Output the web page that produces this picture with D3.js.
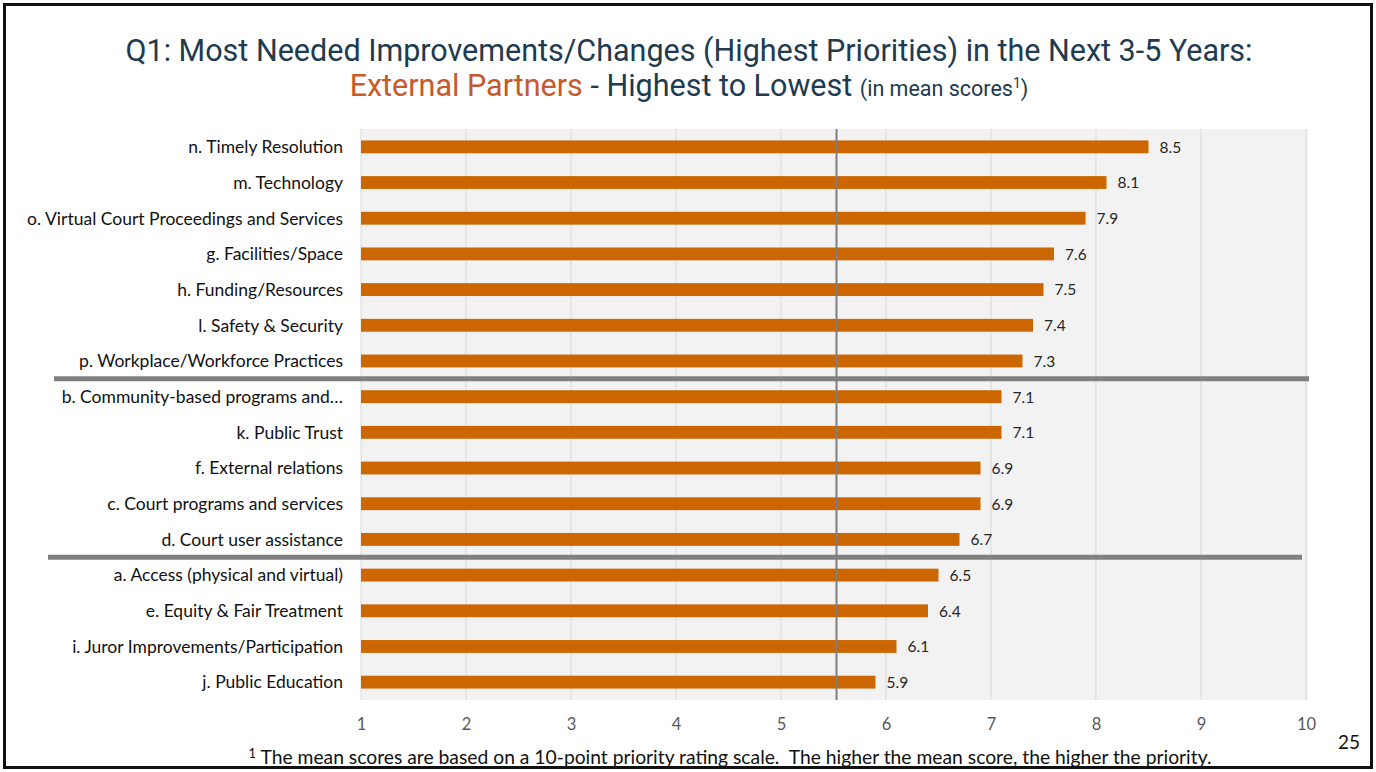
<!DOCTYPE html>
<html>
<head>
<meta charset="utf-8">
<script src="https://cdn.jsdelivr.net/npm/d3@7"></script>
<style>
  html, body { margin: 0; padding: 0; background: #fff; }
  svg { display: block; }
</style>
</head>
<body>
<svg id="chart" width="1376" height="772"></svg>
<script>
// Priority areas, ordered highest to lowest mean score
const categories = [
  "n. Timely Resolution",
  "m. Technology",
  "o. Virtual Court Proceedings and Services",
  "g. Facilities/Space",
  "h. Funding/Resources",
  "l. Safety & Security",
  "p. Workplace/Workforce Practices",
  "b. Community-based programs and…",
  "k. Public Trust",
  "f. External relations",
  "c. Court programs and services",
  "d. Court user assistance",
  "a. Access (physical and virtual)",
  "e. Equity & Fair Treatment",
  "i. Juror Improvements/Participation",
  "j. Public Education"
];
const meanScores = [8.5, 8.1, 7.9, 7.6, 7.5, 7.4, 7.3, 7.1, 7.1, 6.9, 6.9, 6.7, 6.5, 6.4, 6.1, 5.9];
const tickValues = [1, 2, 3, 4, 5, 6, 7, 8, 9, 10];
const scaleMidpoint = 5.5;
// Tiers start at these categories (a divider is drawn above each)
const tierStarts = ["b. Community-based programs and…", "a. Access (physical and virtual)"];

const svg = d3.select("#chart");
const W = 1376, H = 772;

const labelFont = "Lato, 'Open Sans', sans-serif";
const titleFont = "Roboto, 'Noto Sans', sans-serif";
const dark = "#203a4f";
const accent = "#c55a2b";

// Slide frame
svg.append("rect")
  .attr("x", 4.5).attr("y", 4.5)
  .attr("width", W - 9).attr("height", H - 9)
  .attr("fill", "none").attr("stroke", "#111").attr("stroke-width", 3);

// Title
svg.append("text")
  .attr("text-anchor", "middle")
  .attr("font-family", titleFont)
  .attr("fill", dark)
  .attr("x", 689).attr("y", 61)
  .attr("font-size", 30.5)
  .text("Q1: Most Needed Improvements/Changes (Highest Priorities) in the Next 3-5 Years:");
const line2 = svg.append("text")
  .attr("text-anchor", "middle")
  .attr("font-family", titleFont)
  .attr("fill", dark)
  .attr("x", 689).attr("y", 95.5)
  .attr("font-size", 30.5);
line2.append("tspan").attr("fill", accent).text("External Partners");
line2.append("tspan").text(" - Highest to Lowest ");
line2.append("tspan").attr("font-size", 21.5).text("(in mean scores");
line2.append("tspan").attr("font-size", 14).attr("dy", -8).text("1");
line2.append("tspan").attr("font-size", 21.5).attr("dy", 8).text(")");

// Scales
const x = d3.scaleLinear().domain([1, 10]).range([361, 1306]);
const y = d3.scaleBand().domain(categories).range([129, 700]).paddingInner(0.64).paddingOuter(0.32);
const step = y.step();
const plotTop = 129, plotBottom = 700;

// Plot background
svg.append("rect")
  .attr("x", x(1)).attr("y", plotTop)
  .attr("width", x(10) - x(1) + 2).attr("height", plotBottom - plotTop)
  .attr("fill", "#f2f2f2");

// Vertical gridlines
svg.append("g")
  .selectAll("line")
  .data(tickValues)
  .join("line")
  .attr("x1", d => x(d)).attr("x2", d => x(d))
  .attr("y1", plotTop).attr("y2", plotBottom)
  .attr("stroke", "#d9d9d9").attr("stroke-width", 1);

// Bars
svg.append("g")
  .selectAll("rect")
  .data(categories)
  .join("rect")
  .attr("x", x(1))
  .attr("y", d => y(d))
  .attr("width", (d, i) => x(meanScores[i]) - x(1))
  .attr("height", y.bandwidth())
  .attr("fill", "#cc6600");

// Midpoint reference line
svg.append("line")
  .attr("x1", x(scaleMidpoint) + 3).attr("x2", x(scaleMidpoint) + 3)
  .attr("y1", plotTop).attr("y2", plotBottom)
  .attr("stroke", "#7f7f7f").attr("stroke-width", 2);

// Value labels
svg.append("g")
  .selectAll("text")
  .data(categories)
  .join("text")
  .attr("x", (d, i) => x(meanScores[i]) + 11)
  .attr("y", d => y(d) + y.bandwidth() / 2)
  .attr("dy", "0.38em")
  .attr("font-family", labelFont)
  .attr("font-size", 15.5)
  .attr("fill", "#262626")
  .text((d, i) => meanScores[i].toFixed(1));

// Category axis
const yAxis = svg.append("g")
  .attr("transform", `translate(${x(1) - 18},0)`)
  .call(d3.axisLeft(y).tickSize(0).tickPadding(0));
yAxis.select(".domain").remove();
yAxis.selectAll("text")
  .attr("font-family", labelFont)
  .attr("font-size", 17.5)
  .attr("dy", "0.36em")
  .attr("fill", "#111");

// Value axis
const xAxis = svg.append("g")
  .attr("transform", `translate(0,${plotBottom})`)
  .call(d3.axisBottom(x).tickValues(tickValues).tickFormat(d3.format("d")).tickSize(0).tickPadding(18));
xAxis.select(".domain").remove();
xAxis.selectAll("text")
  .attr("font-family", labelFont)
  .attr("font-size", 16.5)
  .attr("fill", "#595959");

// Tier dividers
const dividerExtents = [[54, 1309], [48, 1302]];
svg.append("g")
  .selectAll("line")
  .data(tierStarts)
  .join("line")
  .attr("x1", (d, i) => dividerExtents[i][0])
  .attr("x2", (d, i) => dividerExtents[i][1])
  .attr("y1", d => y(d) - step * y.paddingInner() / 2)
  .attr("y2", d => y(d) - step * y.paddingInner() / 2)
  .attr("stroke", "#808080").attr("stroke-width", 5);

// Footnote
const foot = svg.append("text")
  .attr("x", 730).attr("y", 764)
  .attr("text-anchor", "middle")
  .attr("font-family", labelFont)
  .attr("font-size", 19.3)
  .attr("fill", "#111");
foot.append("tspan").attr("font-size", 13).attr("dy", -6).text("1");
foot.append("tspan").attr("dy", 6).text(" The mean scores are based on a 10-point priority rating scale.\u00a0 The higher the mean score, the higher the priority.");

// Slide number
svg.append("text")
  .attr("x", 1349).attr("y", 749)
  .attr("text-anchor", "middle")
  .attr("font-family", labelFont)
  .attr("font-size", 19)
  .attr("fill", "#111")
  .text("25");
</script>
</body>
</html>
